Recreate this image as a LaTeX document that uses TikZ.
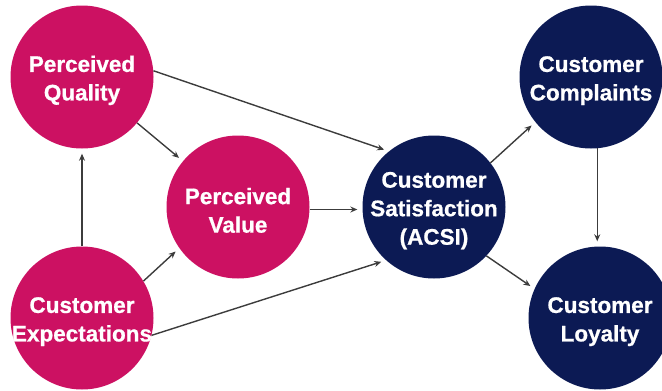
\documentclass[tikz,border=0pt]{standalone}
\usepackage{fontspec}
\setmainfont{Liberation Sans}
\newfontfamily\bubblefont[FakeBold=0.8]{Liberation Sans Bold}
\usetikzlibrary{arrows.meta}
\definecolor{mag}{RGB}{204,17,98}
\definecolor{navy}{RGB}{12,26,84}
\definecolor{arr}{RGB}{60,60,60}
\newcommand\toppad{\rule{0pt}{23pt}}
\tikzset{
  bubble/.style={circle, inner sep=-60pt, minimum size=143pt, text=white, align=center,
    font=\fontsize{22.5}{28.5}\selectfont\bubblefont},
  pink/.style={bubble, fill=mag},
  blue/.style={bubble, fill=navy},
  link/.style={draw=arr, line width=1.4pt, -{Stealth[length=7pt,width=6pt]}, shorten >=5pt}
}
\begin{document}
\begin{tikzpicture}[x=1pt,y=-1pt]
\useasboundingbox (0,0) rectangle (662,391);
\node[pink] (pq) at (82,77) {\toppad Perceived\\Quality};
\node[pink] (pv) at (238,207) {\toppad Perceived\\Value};
\node[pink] (ce) at (82,318) {\toppad Customer\\Expectations};
\node[blue] (cs) at (434,207) {\toppad Customer\\Satisfaction\\(ACSI)};
\node[blue] (cc) at (591,77) {\toppad Customer\\Complaints};
\node[blue] (cl) at (600,318) {\toppad Customer\\Loyalty};
\draw[link] (pq) -- (pv);
\draw[link] (pq.5) -- (cs.129);
\draw[link] (ce.north) -- (pq.south);
\draw[link] (ce.31) -- (pv.215);
\draw[link] (ce.346) -- (cs.228);
\draw[link] (pv.-2) -- (cs.182);
\draw[link] (cs.38) -- (cc.219);
\draw[link] (cs.317) -- (cl.156);
\draw[link] (cc.275) -- (cc.275 |- cl.north);
\end{tikzpicture}
\end{document}
